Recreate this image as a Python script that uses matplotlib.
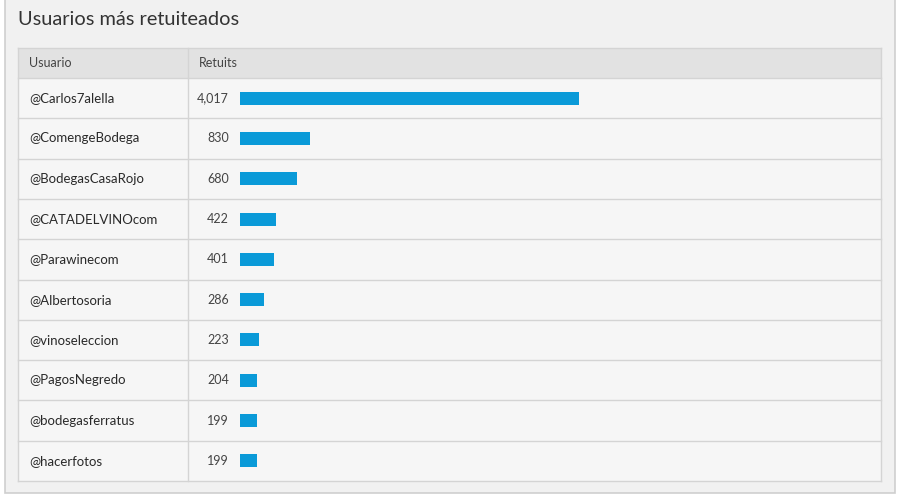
import matplotlib
matplotlib.use("Agg")
import matplotlib.pyplot as plt
from matplotlib.patches import Rectangle

title = "Usuarios más retuiteados"
col_headers = ["Usuario", "Retuits"]
users = ["@Carlos7alella", "@ComengeBodega", "@BodegasCasaRojo", "@CATADELVINOcom",
         "@Parawinecom", "@Albertosoria", "@vinoseleccion", "@PagosNegredo",
         "@bodegasferratus", "@hacerfotos"]
retuits = [4017, 830, 680, 422, 401, 286, 223, 204, 199, 199]

W, H = 900, 498
plt.rcParams['font.family'] = ['Lato', 'DejaVu Sans']
fig = plt.figure(figsize=(W / 100, H / 100), dpi=100)
fig.patch.set_facecolor("white")

# overlay axes in pixel coordinates
ov = fig.add_axes([0, 0, 1, 1])
ov.set_xlim(0, W)
ov.set_ylim(H, 0)
ov.axis("off")

# outer panel
ov.add_patch(Rectangle((5, -2), 890, 495, facecolor="#f1f1f1", edgecolor="#cfcfcf", lw=1.2))
ov.text(18, 19, title, fontsize=14.4, color="#333333", va="center", ha="left")

tx0, tx1 = 18, 881
hy0, hy1 = 48, 78
n = len(users)
row_h = (481 - hy1) / n
# header
ov.add_patch(Rectangle((tx0, hy0), tx1 - tx0, hy1 - hy0, facecolor="#e2e2e2", edgecolor="none"))
ov.text(29, (hy0 + hy1) / 2, col_headers[0], fontsize=9, color="#444444", va="center")
ov.text(199, (hy0 + hy1) / 2, col_headers[1], fontsize=9, color="#444444", va="center")
# body
ov.add_patch(Rectangle((tx0, hy1), tx1 - tx0, n * row_h, facecolor="#f6f6f6", edgecolor="none"))
for i in range(n + 1):
    y = hy1 + i * row_h
    ov.plot([tx0, tx1], [y, y], color="#d4d4d4", lw=1.0)
ov.plot([tx0, tx1], [hy0, hy0], color="#d4d4d4", lw=1.0)
ov.plot([tx0, tx0], [hy0, hy1 + n * row_h], color="#d4d4d4", lw=1.0)
ov.plot([tx1, tx1], [hy0, hy1 + n * row_h], color="#d4d4d4", lw=1.0)
ov.plot([188, 188], [hy0, hy1 + n * row_h], color="#d4d4d4", lw=1.0)

for i, (u, v) in enumerate(zip(users, retuits)):
    yc = hy1 + (i + 0.5) * row_h
    ov.text(29, yc, u, fontsize=9.5, color="#2a2a2a", va="center", ha="left")
    ov.text(229, yc, f"{v:,}", fontsize=9, color="#444444", va="center", ha="right")

# bar axes aligned with rows
bx0, bx1 = 240, 860
ax = fig.add_axes([bx0 / W, 1 - (hy1 + n * row_h) / H, (bx1 - bx0) / W, n * row_h / H])
ax.set_facecolor("none")
px_per_unit = (579 - 240) / 4017
ax.set_xlim(0, (bx1 - bx0) / px_per_unit)
ax.set_ylim(n - 0.5, -0.5)
ax.barh(range(n), retuits, height=13 / row_h, color="#0a9ad8", align="center")
ax.axis("off")

fig.savefig("out.png", dpi=100, facecolor=fig.get_facecolor())
